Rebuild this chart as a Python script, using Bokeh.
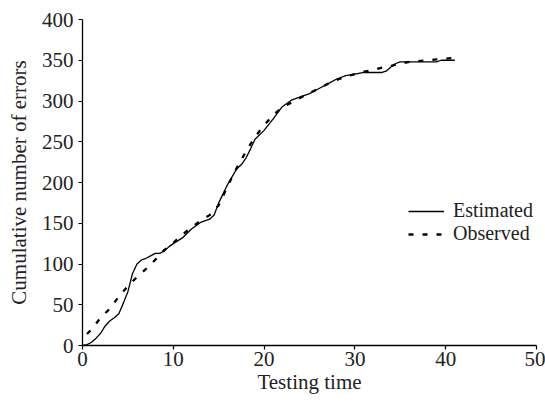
from bokeh.plotting import figure
from bokeh.models import Range1d, Legend, LegendItem, FixedTicker
from bokeh.embed import file_html
from bokeh.resources import INLINE

# Estimated curve
t_est = [0, 0.5, 1, 1.5, 2, 2.5, 3, 3.5, 4, 4.5, 5, 5.5, 6, 6.5, 7, 7.5, 8, 8.5, 9, 9.5,
         10, 11, 12, 13, 14, 14.5, 15, 16, 17, 17.5, 18, 18.5, 19, 20, 21, 22, 23, 24, 25,
         26, 27, 28, 29, 30, 31, 32, 33, 33.5, 34, 34.5, 35, 36, 37, 38, 39, 39.5, 40, 41]
y_est = [0, 1, 4, 9, 15, 24, 30, 34, 39, 52, 66, 88, 100, 105, 107, 110, 113, 113, 116, 121,
         125, 132, 143, 151, 155, 160, 175, 198, 217, 222, 230, 241, 253, 264, 278, 293, 301, 305, 309,
         315, 321, 327, 331, 333, 335, 335, 335, 337, 342, 346, 348, 348, 348, 348, 348, 350, 350, 350]

# Observed data
t_obs = [0.5, 1, 2, 3, 4, 5, 6, 7, 8, 9, 10, 11, 12, 13, 14, 15, 16, 17, 18, 19, 20,
         21, 22, 23, 24, 25, 26, 27, 28, 29, 30, 31, 32, 33, 34, 35, 36, 37, 38, 39, 40, 41]
y_obs = [14, 20, 34, 45, 60, 73, 84, 94, 105, 117, 126, 136, 145, 153, 160, 172, 196, 218, 238, 256, 270,
         283, 292, 298, 304, 310, 315, 321, 326, 330, 333, 336, 338, 341, 343, 346, 348, 349, 350, 351, 352, 353]

x_ticks = [0, 10, 20, 30, 40, 50]
y_ticks = [0, 50, 100, 150, 200, 250, 300, 350, 400]

FONT = "Liberation Serif"
FS = "21px"

p = figure(frame_width=454, frame_height=326, output_backend="svg", toolbar_location=None,
           x_range=Range1d(0, 50), y_range=Range1d(0, 400),
           min_border_left=82, min_border_top=19, min_border_right=9, min_border_bottom=55)
p.outline_line_color = None
p.grid.visible = False
p.background_fill_color = "white"
p.border_fill_color = "white"

l_est = p.line(t_est, y_est, line_color="black", line_width=1.3)
l_obs = p.line(t_obs, y_obs, line_color="black", line_width=2.3, line_dash="5 9")

for ax in (p.xaxis[0], p.yaxis[0]):
    ax.major_label_text_font = FONT
    ax.major_label_text_font_size = FS
    ax.major_label_text_color = "#222222"
    ax.axis_label_text_font = FONT
    ax.axis_label_text_font_size = FS
    ax.axis_label_text_font_style = "normal"
    ax.axis_label_text_color = "#222222"
    ax.minor_tick_line_color = None
    ax.major_tick_in = 0
    ax.major_tick_out = 4
    ax.axis_line_color = "black"
    ax.axis_line_width = 1.3
    ax.major_tick_line_width = 1.2

p.xaxis[0].ticker = FixedTicker(ticks=x_ticks)
p.yaxis[0].ticker = FixedTicker(ticks=y_ticks)
p.xaxis[0].axis_label = "Testing time"
p.yaxis[0].axis_label = "Cumulative number of errors"
p.xaxis[0].major_label_standoff = 2
p.yaxis[0].major_label_standoff = 5
p.xaxis[0].axis_label_standoff = 1
p.yaxis[0].axis_label_standoff = 8

legend = Legend(items=[LegendItem(label="Estimated", renderers=[l_est]),
                       LegendItem(label="Observed", renderers=[l_obs])],
                location=(326, 100))
legend.label_text_font = FONT
legend.label_text_font_size = "20px"
legend.label_text_color = "#222222"
legend.glyph_width = 36
legend.glyph_height = 20
legend.label_height = 20
legend.spacing = -2
legend.label_standoff = 9
legend.padding = 0
legend.margin = 0
legend.border_line_alpha = 0
legend.background_fill_alpha = 0
p.add_layout(legend)

open("out.html", "w").write(file_html(p, INLINE))
